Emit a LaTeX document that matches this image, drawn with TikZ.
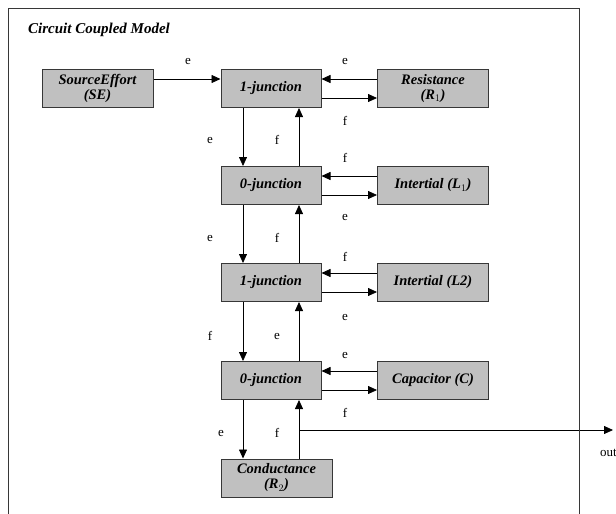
\documentclass[tikz,border=0pt]{standalone}
\usepackage{fontspec}
\setmainfont{Liberation Serif}
\usetikzlibrary{arrows.meta,positioning}
\pgfdeclarelayer{edgelayer}
\pgfdeclarelayer{nodelayer}
\pgfsetlayers{edgelayer,nodelayer,main}
\definecolor{boxgray}{RGB}{192,192,192}
\definecolor{framegray}{RGB}{55,55,55}
\tikzstyle{none}=[inner sep=0pt]
\tikzstyle{block}=[rectangle,fill=boxgray,draw=framegray,line width=1pt,minimum height=38pt,inner sep=0pt,align=center,font=\fontsize{14.5}{15}\selectfont\bfseries\itshape]
\tikzstyle{junction}=[block,minimum width=100pt]
\tikzstyle{element}=[block,minimum width=111pt]
\tikzstyle{flow}=[-{Triangle[length=9pt,width=8pt]},draw=black,line width=0.8pt]
\tikzstyle{var}=[inner sep=0pt,font=\fontsize{13}{14}\selectfont]

\begin{document}
\begin{tikzpicture}[x=1pt,y=-1pt]
	\useasboundingbox (0,0) rectangle (616,514);
	\draw [framegray, line width=1pt] (8,530) -- (8,8) -- (579,8) -- (579,530);
	\node [anchor=west, inner sep=0pt, font=\fontsize{15}{16}\selectfont\bfseries\itshape] (title) at (28,30) {Circuit Coupled Model};
	\begin{pgfonlayer}{nodelayer}
		\node [style=element] (SE) at (97.5,88.5) {SourceEffort\\(SE)};
		\node [style=junction] (J1) at (271,88.5) {1-junction};
		\node [style=element] (Res) at (433,88.5) {Resistance\\(R$_1$)};
		\node [style=junction] (Z1) at (271,185.5) {0-junction};
		\node [style=element] (IntA) at (433,185.5) {Intertial (L$_1$)};
		\node [style=junction] (J2) at (271,282.5) {1-junction};
		\node [style=element] (IntB) at (433,282.5) {Intertial (L2)};
		\node [style=junction] (Z2) at (271,380.5) {0-junction};
		\node [style=element] (Cap) at (433,380.5) {Capacitor (C)};
		\node [style=element] (Cond) at (276.5,478) {Conductance\\(R$_2$)};
		\node [style=none] (branch) at (299,430) {};
		\node [style=none] (outend) at (613,430) {};
		\node [style=var] (eSE) at (188,62) {e};
		\node [style=var] (eRes) at (345,62) {e};
		\node [style=var] (fRes) at (345,121) {f};
		\node [style=var] (fIntA) at (345,158) {f};
		\node [style=var] (eIntA) at (345,217) {e};
		\node [style=var] (fIntB) at (345,257) {f};
		\node [style=var] (eIntB) at (345,317) {e};
		\node [style=var] (eCap) at (345,355) {e};
		\node [style=var] (fCap) at (345,413) {f};
		\node [style=var] (e12) at (210,140) {e};
		\node [style=var] (f12) at (277,140) {f};
		\node [style=var] (e23) at (210,238) {e};
		\node [style=var] (f23) at (277,238) {f};
		\node [style=var] (f34) at (210,336) {f};
		\node [style=var] (e34) at (277,336) {e};
		\node [style=var] (e45) at (221,433) {e};
		\node [style=var] (f45) at (277,433) {f};
		\node [style=var, anchor=west] (out) at (600,453) {out};
	\end{pgfonlayer}
	\begin{pgfonlayer}{edgelayer}
		\draw [style=flow] ([yshift=9.5]SE.east) to ([yshift=9.5]J1.west);
		\draw [style=flow] ([yshift=9.5]Res.west) to ([yshift=9.5]J1.east);
		\draw [style=flow] ([yshift=-9.5]J1.east) to ([yshift=-9.5]Res.west);
		\draw [style=flow] ([yshift=9.5]IntA.west) to ([yshift=9.5]Z1.east);
		\draw [style=flow] ([yshift=-9.5]Z1.east) to ([yshift=-9.5]IntA.west);
		\draw [style=flow] ([yshift=9.5]IntB.west) to ([yshift=9.5]J2.east);
		\draw [style=flow] ([yshift=-9.5]J2.east) to ([yshift=-9.5]IntB.west);
		\draw [style=flow] ([yshift=9.5]Cap.west) to ([yshift=9.5]Z2.east);
		\draw [style=flow] ([yshift=-9.5]Z2.east) to ([yshift=-9.5]Cap.west);
		\draw [style=flow] ([xshift=-28]J1.south) to ([xshift=-28]Z1.north);
		\draw [style=flow] ([xshift=28]Z1.north) to ([xshift=28]J1.south);
		\draw [style=flow] ([xshift=-28]Z1.south) to ([xshift=-28]J2.north);
		\draw [style=flow] ([xshift=28]J2.north) to ([xshift=28]Z1.south);
		\draw [style=flow] ([xshift=-28]J2.south) to ([xshift=-28]Z2.north);
		\draw [style=flow] ([xshift=28]Z2.north) to ([xshift=28]J2.south);
		\draw [style=flow] ([xshift=-28]Z2.south) to ([xshift=-28]Z2.south |- Cond.north);
		\draw [style=flow] (branch |- Cond.north) to ([xshift=28]Z2.south);
		\draw [style=flow] (branch.center) to (outend.center);
	\end{pgfonlayer}
\end{tikzpicture}
\end{document}
